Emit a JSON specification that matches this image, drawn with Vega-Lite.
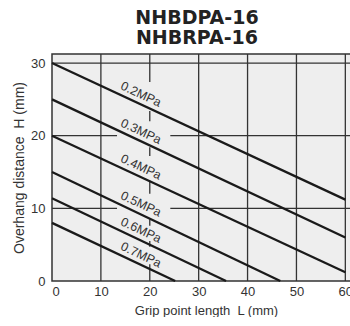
{
  "$schema": "https://vega.github.io/schema/vega-lite/v6.json",
  "width": 308,
  "height": 227,
  "padding": {"left": 12, "top": 9, "right": 0, "bottom": 0},
  "title": {
    "text": ["NHBDPA-16", "NHBRPA-16"],
    "font": "DejaVu Sans",
    "fontSize": 19,
    "fontWeight": "bold",
    "color": "#222222",
    "lineHeight": 20,
    "anchor": "middle",
    "dx": -9,
    "offset": 5
  },
  "config": {
    "view": {"stroke": "#333333", "strokeWidth": 1.5, "fill": "#eeeeee"},
    "axis": {
      "grid": false,
      "domain": false,
      "ticks": false,
      "labelFont": "Liberation Sans",
      "labelColor": "#333333",
      "titleFont": "Liberation Sans",
      "titleFontWeight": "normal",
      "titleColor": "#333333"
    }
  },
  "datasets": {
    "lines": [
      {"p": "0.2MPa", "x": 0, "y": 30}, {"p": "0.2MPa", "x": 60, "y": 11.2},
      {"p": "0.3MPa", "x": 0, "y": 25}, {"p": "0.3MPa", "x": 60, "y": 6.0},
      {"p": "0.4MPa", "x": 0, "y": 20}, {"p": "0.4MPa", "x": 60, "y": 1.2},
      {"p": "0.5MPa", "x": 0, "y": 15}, {"p": "0.5MPa", "x": 46.7, "y": 0},
      {"p": "0.6MPa", "x": 0, "y": 11.4}, {"p": "0.6MPa", "x": 35.6, "y": 0},
      {"p": "0.7MPa", "x": 0, "y": 8}, {"p": "0.7MPa", "x": 25.2, "y": 0}
    ],
    "grid": [
      {"x": 0, "x2": 13.3, "y": 10, "y2": 10}, {"x": 24.2, "x2": 63, "y": 10, "y2": 10},
      {"x": 0, "x2": 13.3, "y": 20, "y2": 20}, {"x": 24.2, "x2": 63, "y": 20, "y2": 20},
      {"x": 0, "x2": 63, "y": 30, "y2": 30},
      {"x": 10, "x2": 10, "y": 0, "y2": 31.25},
      {"x": 30, "x2": 30, "y": 0, "y2": 31.25},
      {"x": 40, "x2": 40, "y": 0, "y2": 31.25},
      {"x": 50, "x2": 50, "y": 0, "y2": 31.25},
      {"x": 60, "x2": 60, "y": 0, "y2": 31.25},
      {"x": 20, "x2": 20, "y": 27.4, "y2": 31.25},
      {"x": 20, "x2": 20, "y": 22.0, "y2": 23.4},
      {"x": 20, "x2": 20, "y": 17.2, "y2": 18.4},
      {"x": 20, "x2": 20, "y": 12.0, "y2": 13.8},
      {"x": 20, "x2": 20, "y": 7.6, "y2": 8.5},
      {"x": 20, "x2": 20, "y": 4.7, "y2": 5.5},
      {"x": 20, "x2": 20, "y": 0, "y2": 2.3}
    ],
    "labels": [
      {"p": "0.2MPa", "x": 18.2, "y": 25.7},
      {"p": "0.3MPa", "x": 18.2, "y": 20.6},
      {"p": "0.4MPa", "x": 18.2, "y": 15.7},
      {"p": "0.5MPa", "x": 18.2, "y": 10.6},
      {"p": "0.6MPa", "x": 18.2, "y": 7.0},
      {"p": "0.7MPa", "x": 18.2, "y": 3.6}
    ]
  },
  "encoding": {
    "x": {
      "field": "x", "type": "quantitative",
      "scale": {"domain": [0, 63], "nice": false, "zero": false},
      "axis": {"values": [0, 10, 20, 30, 40, 50, 60], "labelFontSize": 13, "labelPadding": 4, "title": "Grip point length\u00a0 L (mm)", "titleFontSize": 13, "titlePadding": 6}
    },
    "y": {
      "field": "y", "type": "quantitative",
      "scale": {"domain": [0, 31.25], "nice": false, "zero": false},
      "axis": {"values": [0, 10, 20, 30], "labelFontSize": 13, "labelPadding": 7, "title": "Overhang distance\u00a0 H (mm)", "titleFontSize": 14, "titlePadding": 4}
    }
  },
  "layer": [
    {
      "data": {"name": "grid"},
      "mark": {"type": "rule", "color": "#333333", "strokeWidth": 1.3},
      "encoding": {
        "x2": {"field": "x2"},
        "y2": {"field": "y2"}
      }
    },
    {
      "data": {"name": "lines"},
      "mark": {"type": "line", "color": "#1a1a1a", "strokeWidth": 2.3},
      "encoding": {"detail": {"field": "p"}}
    },
    {
      "data": {"name": "labels"},
      "mark": {"type": "text", "angle": 25, "font": "Liberation Sans", "fontSize": 12.5, "color": "#333333", "align": "center", "baseline": "middle"},
      "encoding": {"text": {"field": "p"}}
    }
  ]
}
